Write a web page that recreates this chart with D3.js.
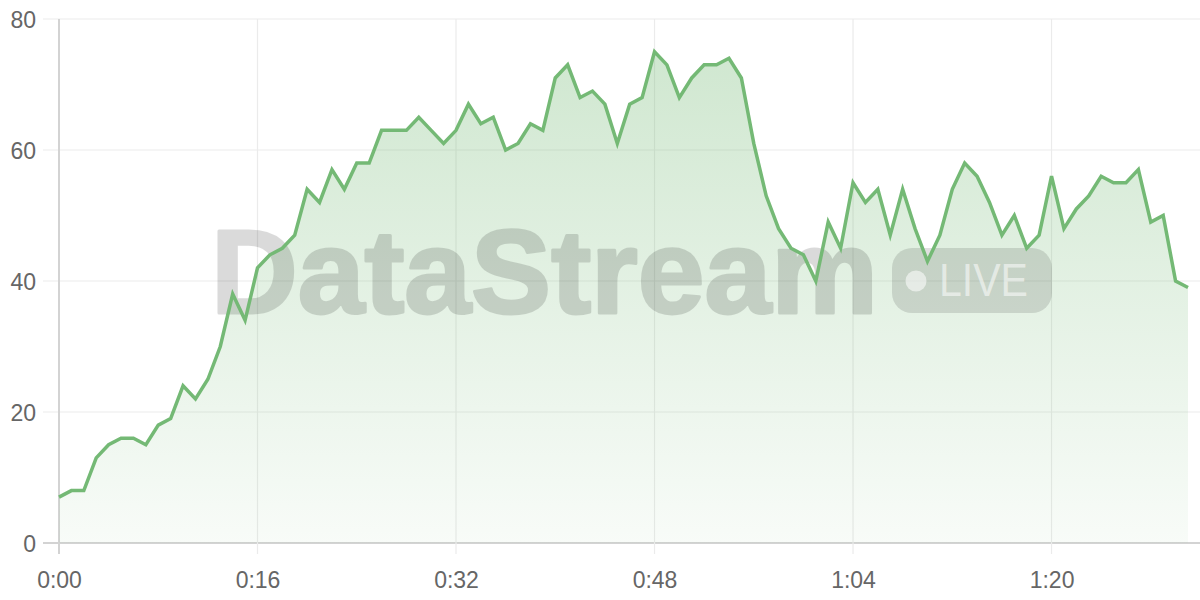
<!DOCTYPE html>
<html>
<head>
<meta charset="utf-8">
<script src="https://cdn.jsdelivr.net/npm/d3@7"></script>
<style>
  html, body { margin: 0; padding: 0; background: #ffffff; }
  svg { display: block; }
</style>
</head>
<body>
<svg id="chart" width="1200" height="600"></svg>
<script>
// ---- data ----
const seconds = d3.range(0, 92);
const values = [7,8,8,13,15,16,16,15,18,19,
  24,22,25,30,38,34,42,44,45,47,
  54,52,57,54,58,58,63,63,63,65,
  63,61,63,67,64,65,60,61,64,63,
  71,73,68,69,67,61,67,68,75,73,
  68,71,73,73,74,71,61,53,48,45,
  44,40,49,45,55,52,54,47,54,48,
  43,47,54,58,56,52,47,50,45,47,
  56,48,51,53,56,55,55,57,49,50,
  40,39];
const xTickValues = [0, 16, 32, 48, 64, 80];
const yTickValues = [0, 20, 40, 60, 80];
const watermarkText = "DataStream";
const badgeText = "LIVE";

// ---- layout ----
const plotLeft = 59, plotRight = 1188, plotTop = 19, plotBottom = 543;
const lineColor = "#74b975";
const fontFamily = "'Liberation Sans', Arial, Helvetica, sans-serif";

const svg = d3.select("#chart");
const x = d3.scaleLinear().domain([0, 91]).range([plotLeft, plotRight]);
const y = d3.scaleLinear().domain([0, 80]).range([plotBottom, plotTop]);
const fmt = s => Math.floor(s / 60) + ":" + String(s % 60).padStart(2, "0");

const data = seconds.map((s, i) => ({ s, v: values[i] }));

// gradient
const defs = svg.append("defs");
const grad = defs.append("linearGradient")
  .attr("id", "areaGrad").attr("gradientUnits", "userSpaceOnUse")
  .attr("x1", 0).attr("x2", 0).attr("y1", plotTop).attr("y2", plotBottom);
grad.append("stop").attr("offset", "0%").attr("stop-color", lineColor).attr("stop-opacity", 0.36);
grad.append("stop").attr("offset", "100%").attr("stop-color", lineColor).attr("stop-opacity", 0.05);

// horizontal grid (y axis)
const yAxis = d3.axisLeft(y).tickValues(yTickValues).tickSize(0).tickPadding(0);
const gy = svg.append("g").attr("transform", `translate(${plotLeft},0)`);
gy.selectAll("line.grid").data(yTickValues).enter().append("line")
  .attr("class", "grid")
  .attr("x1", -16).attr("x2", 1200 - plotLeft)
  .attr("y1", d => y(d)).attr("y2", d => y(d))
  .attr("stroke", d => d === 0 ? "#d3d3d3" : "#ebebeb")
  .attr("stroke-width", d => d === 0 ? 2 : 1.2);
gy.call(yAxis);
gy.select(".domain").remove();
gy.selectAll(".tick text")
  .attr("x", -23).attr("dy", "0.36em")
  .attr("fill", "#666").style("font-size", "23px").style("font-family", fontFamily)
  .attr("text-anchor", "end");

// vertical grid (x axis)
const xAxis = d3.axisBottom(x).tickValues(xTickValues).tickFormat(fmt).tickSize(0);
const gx = svg.append("g").attr("transform", `translate(0,${plotBottom})`);
gx.selectAll("line.grid").data(xTickValues).enter().append("line")
  .attr("class", "grid")
  .attr("x1", d => x(d)).attr("x2", d => x(d))
  .attr("y1", plotTop - plotBottom).attr("y2", 11)
  .attr("stroke", d => d === 0 ? "#d3d3d3" : "#ebebeb")
  .attr("stroke-width", d => d === 0 ? 2 : 1.2);
gx.call(xAxis);
gx.select(".domain").remove();
gx.selectAll(".tick text")
  .attr("y", 45).attr("dy", "0")
  .attr("fill", "#666").style("font-size", "23px").style("font-family", fontFamily);

// area
const area = d3.area().x(d => x(d.s)).y0(y(0)).y1(d => y(d.v));
svg.append("path").datum(data).attr("d", area).attr("fill", "url(#areaGrad)");

// watermark (group opacity so the heavier stroke does not double the alpha)
const wmText = svg.append("g").attr("pointer-events", "none").attr("opacity", 0.14);
wmText.append("text")
  .attr("x", 211).attr("y", 313)
  .attr("textLength", 667).attr("lengthAdjust", "spacingAndGlyphs")
  .style("font-family", fontFamily).style("font-weight", "bold").style("font-size", "118px")
  .attr("fill", "#000").attr("stroke", "#000").attr("stroke-width", 3).attr("stroke-linejoin", "round")
  .text(watermarkText);
const badge = svg.append("g").attr("pointer-events", "none");
badge.append("rect")
  .attr("x", 892).attr("y", 248).attr("width", 160).attr("height", 65)
  .attr("rx", 20).attr("ry", 20)
  .attr("fill", "rgba(0,0,0,0.12)");
badge.append("circle").attr("cx", 916).attr("cy", 281).attr("r", 10.5)
  .attr("fill", "rgba(255,255,255,0.55)");
badge.append("text")
  .attr("x", 939).attr("y", 296)
  .attr("textLength", 89).attr("lengthAdjust", "spacingAndGlyphs")
  .style("font-family", fontFamily).style("font-size", "46px")
  .attr("fill", "rgba(255,255,255,0.55)")
  .text(badgeText);

// line
const line = d3.line().x(d => x(d.s)).y(d => y(d.v));
svg.append("path").datum(data).attr("d", line)
  .attr("fill", "none").attr("stroke", lineColor).attr("stroke-width", 3.5);
</script>
</body>
</html>
